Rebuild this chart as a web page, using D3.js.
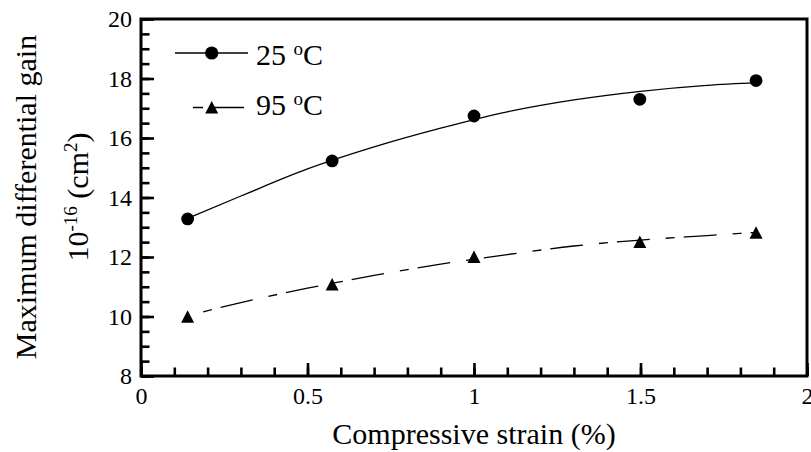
<!DOCTYPE html>
<html>
<head>
<meta charset="utf-8">
<script src="https://cdn.jsdelivr.net/npm/d3@7/dist/d3.min.js"></script>
<style>
  html, body { margin: 0; padding: 0; background: #fff; }
  svg { display: block; }
  svg text { font-family: "Liberation Serif", "LiberationSerif", "Times New Roman", Times, "DejaVu Serif", serif !important; fill: #000; }
</style>
</head>
<body>
<svg id="chart" width="811" height="452"></svg>
<script>
// ---- data ----
const strain = [0.14, 0.574, 1.0, 1.498, 1.847];          // compressive strain (%)
const gain25 = [13.28, 15.23, 16.74, 17.30, 17.93];        // 25 °C points
const gain95 = [10.0, 11.08, 12.01, 12.51, 12.82];         // 95 °C points
const fitStrain = [0.14, 0.3, 0.5, 0.7, 0.9, 1.1, 1.3, 1.5, 1.7, 1.85]; // fitted-curve x
const fit25 = [13.3, 14.05, 14.96, 15.70, 16.33, 16.88, 17.28, 17.57, 17.77, 17.86];
const fit95 = [10.02, 10.47, 10.95, 11.38, 11.76, 12.08, 12.37, 12.57, 12.72, 12.83];
const xMajor = [0, 0.5, 1, 1.5, 2];
const xTickLabels = ["0", "0.5", "1", "1.5", "2"];
const yMajor = [8, 10, 12, 14, 16, 18, 20];
const yTickLabels = ["8", "10", "12", "14", "16", "18", "20"];
const xMinor = d3.range(0, 2.0001, 0.1);
const yMinor = d3.range(8, 20.0001, 0.5);
const legendLabels = ["25 ", "95 "];

const FONT = '"Liberation Serif", "Times New Roman", Times, "DejaVu Serif", serif';

// ---- layout ----
const svg = d3.select("#chart");
const L = 141, R = 807, T = 19, B = 376;
const x = d3.scaleLinear().domain([0, 2]).range([L, R]);
const y = d3.scaleLinear().domain([8, 20]).range([B, T]);

svg.append("rect").attr("width", 811).attr("height", 452).attr("fill", "#fff");

// minor ticks
const xMinorAxis = d3.axisBottom(x).tickValues(xMinor).tickSize(-8.5).tickFormat("");
const yMinorAxis = d3.axisLeft(y).tickValues(yMinor).tickSize(-8.5).tickFormat("");
// major ticks with labels
const xAxis = d3.axisBottom(x).tickValues(xMajor).tickSize(-13).tickPadding(11)
  .tickFormat((d, i) => xTickLabels[i]);
const yAxis = d3.axisLeft(y).tickValues(yMajor).tickSize(-13).tickPadding(9)
  .tickFormat((d, i) => yTickLabels[i]);

function styleAxis(g) {
  g.attr("font-family", FONT);
  g.select(".domain").remove();
  g.selectAll(".tick line").attr("stroke", "#000").attr("stroke-width", 2.6);
  g.selectAll(".tick text").attr("font-size", 24).style("font-family", FONT).attr("fill", "#000");
}
svg.append("g").attr("transform", `translate(0,${B})`).call(xMinorAxis).call(styleAxis);
svg.append("g").attr("transform", `translate(${L},0)`).call(yMinorAxis).call(styleAxis);
svg.append("g").attr("transform", `translate(0,${B})`).call(xAxis).call(styleAxis);
svg.append("g").attr("transform", `translate(${L},0)`).call(yAxis).call(styleAxis);

// frame
svg.append("rect")
  .attr("x", x(0)).attr("y", y(20))
  .attr("width", x(2) - x(0)).attr("height", y(8) - y(20))
  .attr("fill", "none").attr("stroke", "#000").attr("stroke-width", 3);

// fitted curves
const line = d3.line().x((d, i) => x(fitStrain[i])).y(d => y(d)).curve(d3.curveMonotoneX);
svg.append("path").attr("d", line(fit25))
  .attr("fill", "none").attr("stroke", "#000").attr("stroke-width", 1.3);
svg.append("path").attr("d", line(fit95))
  .attr("fill", "none").attr("stroke", "#000").attr("stroke-width", 1.3)
  .attr("stroke-dasharray", "9,9,33,16").attr("stroke-dashoffset", 51);

// markers
const tri = (cx, cy, w = 13, h = 12.5) =>
  `M${cx},${cy - h / 2}L${cx + w / 2},${cy + h / 2}L${cx - w / 2},${cy + h / 2}Z`;
svg.append("g").selectAll("circle").data(gain25).join("circle")
  .attr("cx", (d, i) => x(strain[i])).attr("cy", d => y(d)).attr("r", 6.4).attr("fill", "#000");
svg.append("g").selectAll("path").data(gain95).join("path")
  .attr("d", (d, i) => tri(x(strain[i]), y(d))).attr("fill", "#000");

// legend
const lg = svg.append("g");
lg.append("line").attr("x1", 175).attr("x2", 248).attr("y1", 53).attr("y2", 53)
  .attr("stroke", "#000").attr("stroke-width", 1.3);
lg.append("circle").attr("cx", 211.7).attr("cy", 53).attr("r", 6.6).attr("fill", "#000");
lg.append("line").attr("x1", 193).attr("x2", 244).attr("y1", 107.5).attr("y2", 107.5)
  .attr("stroke", "#000").attr("stroke-width", 1.3).attr("stroke-dasharray", "10,8,33,16");
lg.append("path").attr("d", tri(211.7, 107.3)).attr("fill", "#000");

[65, 115].forEach((by, i) => {
  const t = lg.append("text").attr("x", 256).attr("y", by).attr("font-size", 30).style("font-family", FONT);
  t.append("tspan").text(legendLabels[i]);
  t.append("tspan").attr("font-size", 19).attr("dy", -10).text("o");
  t.append("tspan").attr("dy", 10).text("C");
});

// axis titles
svg.append("text").attr("x", 474).attr("y", 444).attr("text-anchor", "middle")
  .attr("font-size", 30).style("font-family", FONT).text("Compressive strain (%)");

const yt = svg.append("g").attr("transform", "translate(0,197) rotate(-90)");
yt.append("text").attr("x", 0).attr("y", 36).attr("text-anchor", "middle")
  .attr("font-size", 30).style("font-family", FONT).text("Maximum differential gain");
const t2 = yt.append("text").attr("x", 0).attr("y", 88).attr("text-anchor", "middle")
  .attr("font-size", 30).style("font-family", FONT);
t2.append("tspan").text("10");
t2.append("tspan").attr("font-size", 19).attr("dy", -11).text("-16");
t2.append("tspan").attr("dy", 11).text(" (cm");
t2.append("tspan").attr("font-size", 19).attr("dy", -11).text("2");
t2.append("tspan").attr("dy", 11).text(")");
</script>
</body>
</html>
